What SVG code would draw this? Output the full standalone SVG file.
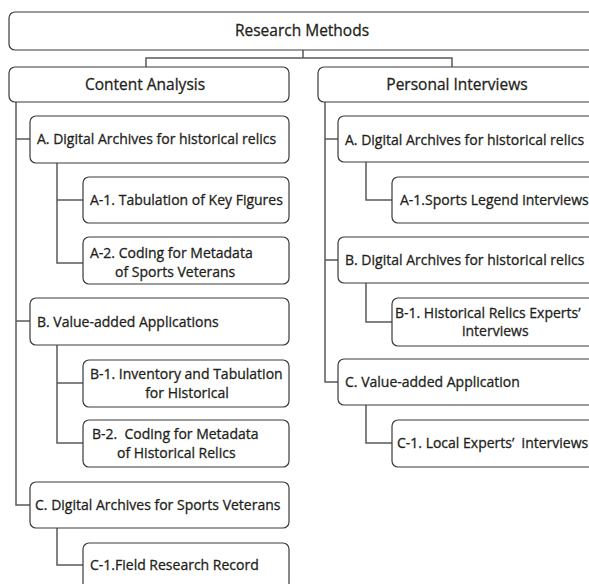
<svg xmlns="http://www.w3.org/2000/svg" width="589" height="584" viewBox="0 0 589 584">
<style>
.box{fill:#fff;stroke:#3a3a3a;stroke-width:1.2}
.con{fill:none;stroke:#5a5a5a;stroke-width:1.5}
text{font-family:"Open Sans","Noto Sans","DejaVu Sans",sans-serif;font-size:14px;fill:#231f20;stroke:#231f20;stroke-width:0.3;white-space:pre}
.h{font-size:15.5px}
.m{text-anchor:middle}
</style>
<rect width="589" height="584" fill="#fff"/>
<g id="connectors">
<path class="con" d="M303,50V58M146,67V58H452V67"/>
<path class="con" d="M16,102V505H30M16,139H30M16,321H30"/>
<path class="con" d="M57,163V263H83M57,200H83"/>
<path class="con" d="M57,345V443H83M57,383H83"/>
<path class="con" d="M57,528V565H83"/>
<path class="con" d="M325,102V382H338M325,139H338M325,260H338"/>
<path class="con" d="M366,162V200H392"/>
<path class="con" d="M366,283V322H392"/>
<path class="con" d="M366,405V443H392"/>
</g>
<g id="research-methods"><rect class="box" x="9" y="12" width="640" height="38" rx="6"/><text class="h m" x="302" y="36">Research Methods</text></g>
<g id="content-analysis"><rect class="box" x="9" y="67" width="280" height="35" rx="6"/><text class="h m" x="145" y="90">Content Analysis</text></g>
<g id="personal-interviews"><rect class="box" x="318" y="67" width="330" height="35" rx="6"/><text class="h m" x="457" y="90">Personal Interviews</text></g>

<g id="ca-a"><rect class="box" x="30" y="116" width="259" height="47" rx="6"/><text x="37" y="144">A. Digital Archives for historical relics</text></g>
<g id="ca-a1"><rect class="box" x="83" y="177" width="206" height="46" rx="6"/><text x="90" y="205">A-1. Tabulation of Key Figures</text></g>
<g id="ca-a2"><rect class="box" x="83" y="237" width="206" height="47" rx="6"/><text x="90" y="258">A-2. Coding for Metadata</text><text x="115" y="277">of Sports Veterans</text></g>
<g id="ca-b"><rect class="box" x="30" y="298" width="259" height="47" rx="6"/><text x="37" y="327">B. Value-added Applications</text></g>
<g id="ca-b1"><rect class="box" x="83" y="360" width="206" height="47" rx="6"/><text x="90" y="379">B-1. Inventory and Tabulation</text><text class="m" x="187" y="398">for Historical</text></g>
<g id="ca-b2"><rect class="box" x="83" y="420" width="206" height="47" rx="6"/><text x="92" y="439">B-2.  Coding for Metadata</text><text x="117" y="458">of Historical Relics</text></g>
<g id="ca-c"><rect class="box" x="30" y="482" width="259" height="46" rx="6"/><text x="35" y="510">C. Digital Archives for Sports Veterans</text></g>
<g id="ca-c1"><rect class="box" x="83" y="543" width="206" height="46" rx="6"/><text x="90" y="570">C-1.Field Research Record</text></g>

<g id="pi-a"><rect class="box" x="338" y="116" width="300" height="46" rx="6"/><text x="345" y="145">A. Digital Archives for historical relics</text></g>
<g id="pi-a1"><rect class="box" x="392" y="177" width="250" height="46" rx="6"/><text x="400" y="205">A-1.Sports Legend interviews</text></g>
<g id="pi-b"><rect class="box" x="338" y="237" width="300" height="46" rx="6"/><text x="345" y="265">B. Digital Archives for historical relics</text></g>
<g id="pi-b1"><rect class="box" x="392" y="298" width="250" height="48" rx="6"/><text x="395" y="318">B-1. Historical Relics Experts’</text><text x="462" y="336">interviews</text></g>
<g id="pi-c"><rect class="box" x="338" y="359" width="300" height="46" rx="6"/><text x="345" y="387">C. Value-added Application</text></g>
<g id="pi-c1"><rect class="box" x="392" y="420" width="250" height="47" rx="6"/><text x="397" y="448">C-1. Local Experts’  interviews</text></g>
</svg>
